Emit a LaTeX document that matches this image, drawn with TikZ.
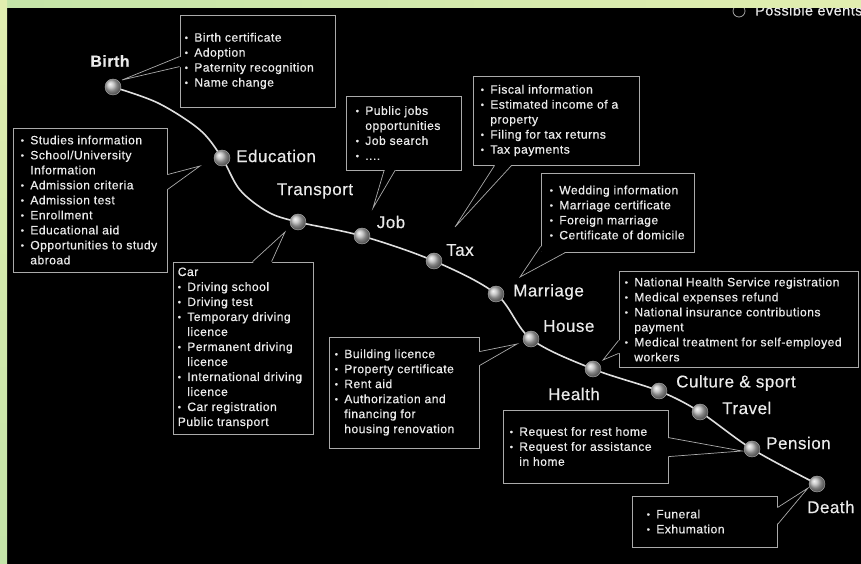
\documentclass[tikz,border=0pt]{standalone}
\usepackage{fontspec}
\setmainfont{Liberation Sans}
\newfontfamily\boxfont[LetterSpace=4,FakeBold=0.6]{Liberation Sans}
\newfontfamily\labfont[LetterSpace=3,FakeBold=0.4]{Liberation Sans}
\usetikzlibrary{calc}
\definecolor{txt}{RGB}{235,235,235}
\definecolor{frame}{RGB}{170,170,170}
\definecolor{gleft}{RGB}{196,228,168}
\definecolor{gright}{RGB}{226,238,176}
\newcommand\bu{\makebox[9.5pt][l]{\raisebox{0.8pt}{\scalebox{0.75}{\textbullet}}}}
\newcommand\ci{\hspace*{9.5pt}}
\tikzset{
  boxframe/.style={draw=frame, line width=0.8pt, rectangle, inner sep=0pt},
  boxtext/.style={anchor=west, inner sep=0pt, align=left, text=txt,
    font=\boxfont\fontsize{12.1}{15}\selectfont},
  evlabel/.style={inner sep=0pt, text=txt, font=\labfont\fontsize{17}{20}\selectfont},
  ball/.style={circle, minimum size=16pt, inner sep=0pt, shading=ball,
    ball color=gray!55, draw=gray!60, line width=0.4pt},
  lifeline/.style={draw=gray!25, line width=1.6pt},
  pointer/.style={draw=frame, line width=0.7pt},
  gap/.style={fill=black, draw=none}
}
\begin{document}
\begin{tikzpicture}[x=1pt, y=-1pt]
\useasboundingbox (0,0) rectangle (861,564);
\clip (0,0) rectangle (861,564);
\fill[black] (0,0) rectangle (861,564);

% Possible events legend (cut by the top band)
\node[circle, draw=gray!70, line width=0.8pt, minimum size=12pt, inner sep=0pt] (legball) at (739,11) {};
\node[anchor=base west, inner sep=0pt, text=txt, font=\labfont\fontsize{14.5}{16}\selectfont] (legtext) at (755,15.5) {Possible events};

% life line
\coordinate (c1) at (158,103);
\coordinate (c2) at (200,130);
\coordinate (c3) at (240,190);
\coordinate (c4) at (268,212);
\draw[lifeline] plot[smooth, tension=0.55] coordinates {
  (113,87) (c1) (c2) (222,158) (c3) (c4) (298,222) (362,236) (434,261) (496,294)
  (531,339) (593,369) (659,391) (700,412) (752,449) (817,484)};

% balls
\node[ball] (birth) at (113,87) {};
\node[ball] (edu) at (222,158) {};
\node[ball] (trans) at (298,222) {};
\node[ball] (job) at (362,236) {};
\node[ball] (tax) at (434,261) {};
\node[ball] (mar) at (496,294) {};
\node[ball] (house) at (531,339) {};
\node[ball] (health) at (593,369) {};
\node[ball] (cult) at (659,391) {};
\node[ball] (travel) at (700,412) {};
\node[ball] (pens) at (752,449) {};
\node[ball] (death) at (817,484) {};

% labels
\node[evlabel, font=\labfont\fontsize{16}{20}\selectfont\bfseries] (lbirth) at (110,61) {Birth};
\node[evlabel, anchor=west] (ledu) at (236,156) {Education};
\node[evlabel] (ltrans) at (315,191) {Transport};
\node[evlabel] (ljob) at (391,222) {Job};
\node[evlabel, anchor=west] (ltax) at (446,250) {Tax};
\node[evlabel, anchor=west] (lmar) at (513,292) {Marriage};
\node[evlabel, anchor=west] (lhouse) at (543,326) {House};
\node[evlabel] (lhealth) at (574,394) {Health};
\node[evlabel, anchor=west] (lcult) at (676,383) {Culture \& sport};
\node[evlabel, anchor=west] (ltravel) at (722,408) {Travel};
\node[evlabel, anchor=west] (lpens) at (766,443) {Pension};
\node[evlabel, anchor=west] (ldeath) at (807,507) {Death};

% boxes
\node[boxframe, minimum width=155pt, minimum height=92pt] (bbirth) at (257.5,61) {};
\node[boxframe, minimum width=154pt, minimum height=144pt] (bedu) at (90,200) {};
\node[boxframe, minimum width=115pt, minimum height=74pt] (bjob) at (403.5,133) {};
\node[boxframe, minimum width=166pt, minimum height=89pt] (btax) at (556,120.5) {};
\node[boxframe, minimum width=153pt, minimum height=79pt] (bmar) at (617.5,212.5) {};
\node[boxframe, minimum width=239pt, minimum height=96pt] (bhealth) at (738.5,319.5) {};
\node[boxframe, minimum width=140pt, minimum height=172pt] (btrans) at (243,348) {};
\node[boxframe, minimum width=150pt, minimum height=111pt] (bhouse) at (404,392.5) {};
\node[boxframe, minimum width=165pt, minimum height=73pt] (bpens) at (585.5,446.5) {};
\node[boxframe, minimum width=145pt, minimum height=51pt] (bdeath) at (704.5,521.5) {};

% box texts
\node[boxtext] (tbirth) at ([xshift=5pt]bbirth.west) {\bu Birth certificate\\ \bu Adoption\\ \bu Paternity recognition\\ \bu Name change};
\node[boxtext] (tedu) at ([xshift=8pt]bedu.west) {\bu Studies information\\ \bu School/University\\ \ci Information\\ \bu Admission criteria\\ \bu Admission test\\ \bu Enrollment\\ \bu Educational aid\\ \bu Opportunities to study\\ \ci abroad};
\node[boxtext] (tjob) at ([xshift=10pt]bjob.west) {\bu Public jobs\\ \ci opportunities\\ \bu Job search\\ \bu ....};
\node[boxtext] (ttax) at ([xshift=8pt]btax.west) {\bu Fiscal information\\ \bu Estimated income of a\\ \ci property\\ \bu Filing for tax returns\\ \bu Tax payments};
\node[boxtext] (tmar) at ([xshift=9pt]bmar.west) {\bu Wedding information\\ \bu Marriage certificate\\ \bu Foreign marriage\\ \bu Certificate of domicile};
\node[boxtext] (thealth) at ([xshift=6pt]bhealth.west) {\bu National Health Service registration\\ \bu Medical expenses refund\\ \bu National insurance contributions\\ \ci payment\\ \bu Medical treatment for self-employed\\ \ci workers};
\node[boxtext] (ttrans) at ([xshift=5pt]btrans.west) {Car\\ \bu Driving school\\ \bu Driving test\\ \bu Temporary driving\\ \ci licence\\ \bu Permanent driving\\ \ci licence\\ \bu International driving\\ \ci licence\\ \bu Car registration\\ Public transport};
\node[boxtext] (thouse) at ([xshift=6pt]bhouse.west) {\bu Building licence\\ \bu Property certificate\\ \bu Rent aid\\ \bu Authorization and\\ \ci financing for\\ \ci housing renovation};
\node[boxtext] (tpens) at ([xshift=7pt]bpens.west) {\bu Request for rest home\\ \bu Request for assistance\\ \ci in home};
\node[boxtext] (tdeath) at ([xshift=15pt]bdeath.west) {\bu Funeral\\ \bu Exhumation};

% pointer tips
\coordinate (pbirth) at (122,80);
\coordinate (pedu) at (200,166);
\coordinate (pjob) at (373,208);
\coordinate (ptax) at (455,227);
\coordinate (pmar) at (520,277);
\coordinate (phealth) at (603,360);
\coordinate (ptrans) at (285,232);
\coordinate (phouse) at (517,344);
\coordinate (ppens) at (742,451);
\coordinate (pdeath) at (808,488);

% pointers: gap in frame, then two lines
\fill[gap] (180.8,57) -- (pbirth) -- (180.8,67) -- cycle;
\draw[pointer] ($(bbirth.north west)+(0,42)$) -- (pbirth) -- ($(bbirth.north west)+(0,52)$);

\fill[gap] (166.2,175) -- (pedu) -- (166.2,190) -- cycle;
\draw[pointer] ($(bedu.north east)+(0,47)$) -- (pedu) -- ($(bedu.north east)+(0,62)$);

\fill[gap] (385,169.2) -- (pjob) -- (396,169.2) -- cycle;
\draw[pointer] ($(bjob.south west)+(38.5,0)$) -- (pjob) -- ($(bjob.south west)+(49.5,0)$);

\fill[gap] (495,164.2) -- (ptax) -- (512,164.2) -- cycle;
\draw[pointer] ($(btax.south west)+(22,0)$) -- (ptax) -- ($(btax.south west)+(39,0)$);

\fill[gap] (541.8,246) -- (541.8,251.2) -- (pmar) -- cycle;
\fill[gap] (541.8,251.2) -- (567,251.2) -- (pmar) -- cycle;
\draw[pointer] ($(bmar.south west)+(0,-6)$) -- (pmar) -- ($(bmar.south west)+(25,0)$);

\fill[gap] (619.8,340) -- (phealth) -- (619.8,353) -- cycle;
\draw[pointer] ($(bhealth.south west)+(0,-27.5)$) -- (phealth) -- ($(bhealth.south west)+(0,-14.5)$);

\fill[gap] (253,262.8) -- (ptrans) -- (272,262.8) -- cycle;
\draw[pointer] ($(btrans.north west)+(80,0)$) -- (ptrans) -- ($(btrans.north west)+(99,0)$);

\fill[gap] (478.2,352) -- (phouse) -- (478.2,366) -- cycle;
\draw[pointer] ($(bhouse.north east)+(0,15)$) -- (phouse) -- ($(bhouse.north east)+(0,29)$);

\fill[gap] (667.2,438) -- (ppens) -- (667.2,457) -- cycle;
\draw[pointer] ($(bpens.north east)+(0,28)$) -- (ppens) -- ($(bpens.north east)+(0,47)$);

\fill[gap] (776.2,508) -- (pdeath) -- (776.2,525) -- cycle;
\draw[pointer] ($(bdeath.north east)+(0,12)$) -- (pdeath) -- ($(bdeath.north east)+(0,29)$);

% green page border (top and left)
\shade[left color=gleft, right color=gright] (0,0) rectangle (861,7.5);
\shade[top color=gright, bottom color=gleft] (0,0) rectangle (7,564);
\end{tikzpicture}
\end{document}
